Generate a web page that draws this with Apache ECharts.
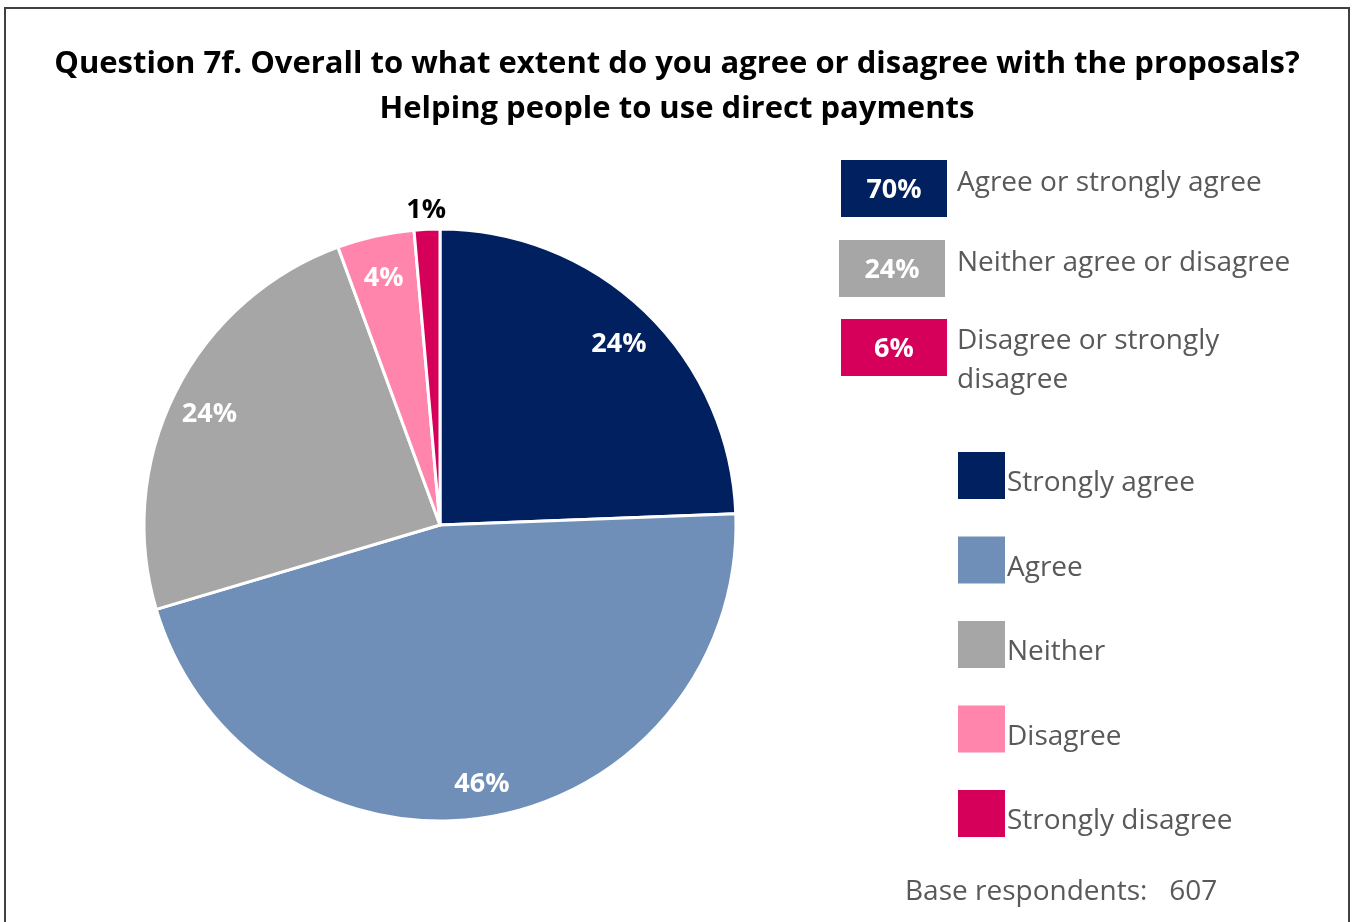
<!DOCTYPE html>
<html>
<head>
<meta charset="utf-8">
<script src="https://cdn.jsdelivr.net/npm/echarts@6/dist/echarts.min.js"></script>
<style>
html,body{margin:0;padding:0;background:#fff;}
#chart{width:1354px;height:922px;}
</style>
</head>
<body>
<div id="chart"></div>
<script>
// ---- data ----
const categories = ['Strongly agree', 'Agree', 'Neither', 'Disagree', 'Strongly disagree'];
const values = [24.4, 46.0, 24.0, 4.2, 1.4];
const sliceColors = ['#002060', '#6F8FB8', '#A6A6A6', '#FF85AD', '#D6005A'];

const summaryLabels = ['Agree or strongly agree', 'Neither agree or disagree', 'Disagree or strongly\ndisagree'];
const summaryValues = ['70%', '24%', '6%'];
const summaryColors = ['#002060', '#A6A6A6', '#D6005A'];

const baseText = 'Base respondents:   607';
const titleText = 'Question 7f. Overall to what extent do you agree or disagree with the proposals?\nHelping people to use direct payments';

// ---- chart ----
const FONT = '"Open Sans", sans-serif';
const chart = echarts.init(document.getElementById('chart'));

const mainData = categories.map((c, i) => ({ name: c, value: values[i], itemStyle: { color: sliceColors[i] } }));
const innerLabelData = categories.map((c, i) => ({
  name: c, value: values[i],
  label: { show: i < 4 }
}));
const outerLabelData = categories.map((c, i) => ({
  name: c, value: values[i],
  label: { show: i === 4 }
}));

const boxX = [841, 839, 841];
const boxY = [160, 240, 319];
const graphics = [
  { type: 'rect', shape: { x: 5, y: 8, width: 1344, height: 930 }, style: { fill: 'none', stroke: '#404040', lineWidth: 2 }, silent: true }
];
summaryLabels.forEach((lab, i) => {
  graphics.push({
    type: 'rect', shape: { x: boxX[i], y: boxY[i], width: 106, height: 57 },
    style: { fill: summaryColors[i] }
  });
  graphics.push({
    type: 'text', x: boxX[i] + 53, y: boxY[i] + 30,
    style: { text: summaryValues[i], fill: '#fff', font: 'bold 27px ' + FONT, align: 'center', verticalAlign: 'middle' }
  });
  const multi = lab.indexOf('\n') >= 0;
  graphics.push({
    type: 'text', x: 957, y: multi ? 361 : boxY[i] + 23,
    style: { text: lab, fill: '#595959', font: '28px ' + FONT, lineHeight: 39, align: 'left', verticalAlign: 'middle' }
  });
});
graphics.push({
  type: 'text', x: 905, y: 892,
  style: { text: baseText, fill: '#595959', font: '28px ' + FONT, align: 'left', verticalAlign: 'middle' }
});

chart.setOption({
  backgroundColor: '#fff',
  animation: false,
  title: {
    text: titleText, left: 'center', top: 37,
    textStyle: { fontFamily: FONT, fontWeight: 'bold', fontSize: 31, color: '#000', lineHeight: 45 }
  },
  legend: {
    data: categories, orient: 'vertical', left: 956, top: 450, padding: 0,
    icon: 'rect', itemWidth: 49, itemHeight: 49, itemGap: 33.5,
    selectedMode: false,
    formatter: '{t|{name}}',
    textStyle: {
      fontFamily: FONT, fontSize: 28, color: '#595959',
      rich: { t: { fontFamily: FONT, fontSize: 28, color: '#595959', lineHeight: 30, padding: [16, 0, 0, -4] } }
    }
  },
  graphic: graphics,
  series: [
    {
      type: 'pie', center: [440, 525], radius: [0, 296], startAngle: 90, clockwise: true,
      data: mainData, label: { show: false }, labelLine: { show: false },
      itemStyle: { borderColor: '#fff', borderWidth: 3 }, silent: true
    },
    {
      type: 'pie', center: [440, 525], radius: [214, 296], startAngle: 90, clockwise: true,
      data: innerLabelData, silent: true, z: 3,
      itemStyle: { color: 'rgba(0,0,0,0)' },
      labelLine: { show: false },
      labelLayout: { dy: 5 },
      label: { position: 'inside', formatter: p => Math.round(p.value) + '%', color: '#fff',
               fontFamily: FONT, fontWeight: 'bold', fontSize: 27 }
    },
    {
      type: 'pie', center: [440, 525], radius: [298, 326], startAngle: 90, clockwise: true,
      data: outerLabelData, silent: true, z: 3,
      itemStyle: { color: 'rgba(0,0,0,0)' },
      labelLine: { show: false },
      label: { position: 'inside', formatter: p => Math.round(p.value) + '%', color: '#000',
               fontFamily: FONT, fontWeight: 'bold', fontSize: 27 }
    }
  ]
});
</script>
</body>
</html>
